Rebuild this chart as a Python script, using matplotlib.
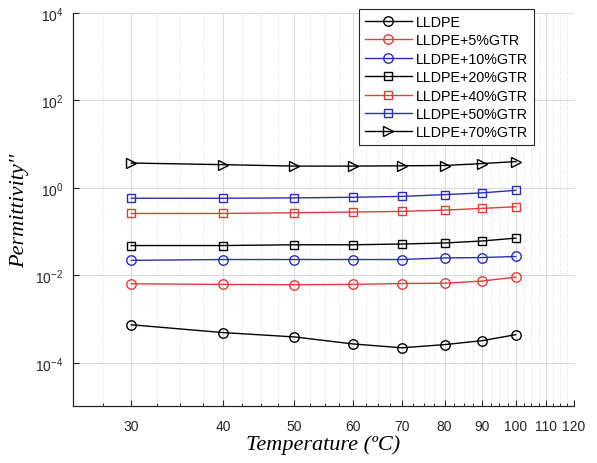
import matplotlib.pyplot as plt
import numpy as np
from matplotlib.ticker import FixedLocator, NullFormatter, NullLocator

plt.rcParams['font.family'] = 'Liberation Sans'
plt.rcParams['mathtext.fontset'] = 'custom'
plt.rcParams['mathtext.rm'] = 'Liberation Sans'
plt.rcParams['mathtext.default'] = 'regular'

# data
temperature = [30, 40, 50, 60, 70, 80, 90, 100]
lldpe = [7.4e-4, 4.9e-4, 3.9e-4, 2.7e-4, 2.2e-4, 2.6e-4, 3.2e-4, 4.4e-4]
gtr5 = [0.0064, 0.0062, 0.0061, 0.0062, 0.0065, 0.0066, 0.0074, 0.0091]
gtr10 = [0.022, 0.023, 0.023, 0.023, 0.023, 0.025, 0.0255, 0.027]
gtr20 = [0.048, 0.048, 0.050, 0.050, 0.052, 0.055, 0.061, 0.071]
gtr40 = [0.26, 0.26, 0.27, 0.28, 0.29, 0.31, 0.34, 0.37]
gtr50 = [0.58, 0.58, 0.59, 0.61, 0.64, 0.70, 0.77, 0.88]
gtr70 = [3.7, 3.4, 3.15, 3.15, 3.2, 3.25, 3.6, 4.0]

labels = ['LLDPE', 'LLDPE+5%GTR', 'LLDPE+10%GTR', 'LLDPE+20%GTR',
          'LLDPE+40%GTR', 'LLDPE+50%GTR', 'LLDPE+70%GTR']
x_major = [30, 40, 50, 60, 70, 80, 90, 100, 110, 120]
x_labels = ['30', '40', '50', '60', '70', '80', '90', '100', '110', '120']
y_major = [1e-4, 1e-2, 1e0, 1e2, 1e4]
y_labels = ['10$^{-4}$', '10$^{-2}$', '10$^{0}$', '10$^{2}$', '10$^{4}$']

red = '#e23b3b'
blue = '#2b2bbd'
styles = [('k', 'o', 6.8), (red, 'o', 6.8), (blue, 'o', 6.8),
          ('k', 's', 5.3), (red, 's', 5.3), (blue, 's', 5.3), ('k', '>', 7)]
series = [lldpe, gtr5, gtr10, gtr20, gtr40, gtr50, gtr70]

fig = plt.figure(figsize=(5.97, 4.64), dpi=100)
ax = fig.add_axes([0.1223, 0.1218, 0.8392, 0.848])

for vals, lab, (c, m, ms) in zip(series, labels, styles):
    ax.plot(temperature, vals, color=c, lw=1, marker=m, ms=ms,
            mfc='none', mec=c, mew=1, label=lab)

ax.set_xscale('log')
ax.set_yscale('log')
ax.set_xlim(25, 120)
ax.set_ylim(1e-5, 1e4)

ax.xaxis.set_major_locator(FixedLocator(x_major))
ax.set_xticklabels(x_labels)
minors = [v for v in np.arange(27.5, 120, 2.5) if v not in x_major]
ax.xaxis.set_minor_locator(FixedLocator(minors))
ax.xaxis.set_minor_formatter(NullFormatter())
ax.yaxis.set_major_locator(FixedLocator(y_major))
ax.set_yticklabels(y_labels)
ax.yaxis.set_minor_locator(NullLocator())

ax.grid(which='major', color='#d9d9d9', lw=0.7, ls='-')
ax.grid(which='minor', axis='x', color='#d9d9d9', lw=0.6, ls=':')
ax.set_axisbelow(True)

for s in ['top', 'right']:
    ax.spines[s].set_visible(False)
for s in ['left', 'bottom']:
    ax.spines[s].set_color('#262626')
    ax.spines[s].set_linewidth(0.9)

ax.tick_params(which='major', direction='in', length=4, width=0.8,
               labelsize=10, colors='#262626', pad=9)
ax.tick_params(axis='y', which='major', pad=7)
ax.tick_params(which='minor', direction='in', length=2.5, width=0.7,
               colors='#262626')

ax.set_xlabel('Temperature (ºC)', fontfamily='Liberation Serif',
              style='italic', fontsize=16, labelpad=1)
ax.set_ylabel("Permittivity''", fontfamily='Liberation Serif',
              style='italic', fontsize=16, labelpad=4)

leg = ax.legend(loc='upper right', bbox_to_anchor=(0.920, 1.010),
                fancybox=False, edgecolor='#262626', framealpha=1,
                fontsize=10.3, handlelength=3.3, handletextpad=0.3,
                labelspacing=0.31, borderpad=0.4, borderaxespad=0)
leg.get_frame().set_linewidth(0.8)

fig.savefig('out.png', dpi=100)
